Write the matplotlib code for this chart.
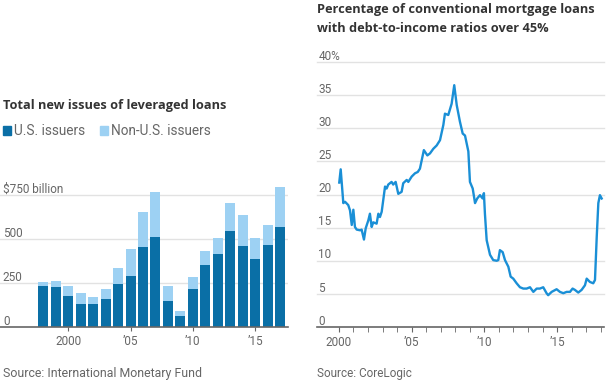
import matplotlib.pyplot as plt

# left chart: leveraged loans, $ billion
years = list(range(1998, 2018))
us = [235, 225, 176, 131, 131, 157, 244, 288, 453, 509,
      146, 61, 214, 354, 413, 544, 462, 383, 468, 566]
total = [254, 261, 235, 195, 172, 218, 337, 445, 652, 767,
         233, 93, 286, 434, 504, 701, 634, 504, 581, 794]
non_us = [t - u for t, u in zip(total, us)]

# right chart: share of mortgages with DTI over 45%
dti_date = [2000.02, 2000.12, 2000.30, 2000.42, 2000.64, 2000.76, 2000.88, 2000.99,
            2001.10, 2001.22, 2001.45, 2001.56, 2001.72, 2001.84, 2002.02, 2002.13,
            2002.25, 2002.36, 2002.59, 2002.71, 2002.82, 2002.94, 2003.17, 2003.28,
            2003.39, 2003.62, 2003.73, 2003.90, 2004.08, 2004.31, 2004.42, 2004.66,
            2004.77, 2005.00, 2005.23, 2005.42, 2005.57, 2005.84, 2006.08, 2006.26,
            2006.49, 2006.72, 2006.95, 2007.18, 2007.29, 2007.52, 2007.75, 2007.93,
            2008.10, 2008.32, 2008.51, 2008.67, 2008.90, 2009.01, 2009.20, 2009.36,
            2009.51, 2009.70, 2009.88, 2009.97, 2010.04, 2010.16, 2010.39, 2010.61,
            2010.85, 2010.96, 2011.07, 2011.26, 2011.42, 2011.65, 2011.81, 2011.99,
            2012.22, 2012.45, 2012.68, 2012.91, 2013.14, 2013.37, 2013.60, 2013.82,
            2014.05, 2014.28, 2014.39, 2014.63, 2014.97, 2015.20, 2015.43, 2015.66,
            2015.89, 2016.07, 2016.23, 2016.46, 2016.69, 2016.92, 2017.04, 2017.26,
            2017.49, 2017.61, 2017.73, 2017.84, 2017.95, 2018.07]
dti_pct = [21.8, 23.8, 18.7, 18.9, 18.4, 17.6, 15.4, 17.7,
           15.1, 14.7, 14.6, 14.7, 13.2, 14.9, 16.1, 17.1,
           15.1, 15.8, 15.6, 17.1, 16.6, 17.4, 21.2, 20.9,
           21.5, 21.9, 21.5, 21.9, 20.1, 20.4, 21.7, 22.2,
           21.9, 22.7, 23.2, 23.4, 23.9, 26.7, 25.9, 26.2,
           26.9, 27.4, 28.2, 30.5, 32.2, 32.0, 33.7, 36.5,
           33.5, 31.0, 29.2, 28.9, 26.5, 21.9, 20.9, 18.7,
           19.4, 19.9, 19.4, 20.2, 17.1, 13.1, 10.9, 10.1,
           10.0, 10.1, 11.6, 11.3, 10.1, 9.1, 7.6, 7.3,
           6.6, 6.0, 5.8, 5.8, 6.0, 5.3, 5.8, 5.8,
           6.0, 5.1, 4.8, 5.3, 5.7, 5.3, 5.1, 5.3,
           5.3, 5.8, 5.6, 5.2, 5.6, 6.3, 7.3, 6.8,
           6.6, 7.1, 13.6, 18.7, 19.9, 19.4]

W, H = 611, 384
dark = "#0a6fa6"
light = "#9dd1f3"
line_c = "#1a8fd6"
grid_c = "#e2e2e2"
txt = "#333333"
tick_c = "#666666"
fam = ["Roboto", "DejaVu Sans"]
fam_b = ["Open Sans", "DejaVu Sans"]


def rect(x0, y0, x1, y1):
    return [x0 / W, 1 - y1 / H, (x1 - x0) / W, (y1 - y0) / H]


def ftext(x, y, s, **kw):
    fig.text(x / W, 1 - y / H, s, **kw)


fig = plt.figure(figsize=(W / 100, H / 100), dpi=100)

# ---- left chart
ax1 = fig.add_axes(rect(0, 186, 288, 327))
ax1.bar(years, us, width=0.8, color=dark, zorder=2)
ax1.bar(years, non_us, bottom=us, width=0.8, color=light, zorder=2)
ax1.set_xlim(1994.52, 2017.64)
ax1.set_ylim(0, 800)
for v in [250, 500, 750]:
    ax1.axhline(v, color=grid_c, lw=1, zorder=0)
for v, lab in [(0, "0"), (250, "250"), (500, "500"), (750, "$750 billion")]:
    ax1.text(0.01, v + 13, lab, transform=ax1.get_yaxis_transform(),
             ha="left", va="baseline", fontsize=8.5, color=tick_c, family=fam)
for s in ["top", "right", "left"]:
    ax1.spines[s].set_visible(False)
ax1.spines["bottom"].set_color(tick_c)
ax1.spines["bottom"].set_linewidth(1.2)
ax1.set_yticks([])
ax1.set_xticks([2000, 2005, 2010, 2015])
ax1.set_xticklabels(["2000", "\u201905", "\u201910", "\u201915"])
ax1.tick_params(axis="x", length=3, color=tick_c, labelcolor=tick_c,
                labelsize=8.5, pad=3)
for t in ax1.get_xticklabels():
    t.set_family(fam)

ftext(3, 105, "Total new issues of leveraged loans", fontsize=9.2,
      weight="bold", color=txt, family=fam_b, va="center")
fig.patches.append(plt.Rectangle((3 / W, 1 - 135 / H), 8 / W, 9 / H,
                                 transform=fig.transFigure, color=dark))
ftext(14, 131, "U.S. issuers", fontsize=9.8, color=tick_c, family=fam, va="center")
fig.patches.append(plt.Rectangle((100 / W, 1 - 135 / H), 8 / W, 9 / H,
                                 transform=fig.transFigure, color=light))
ftext(111, 131, "Non-U.S. issuers", fontsize=9.8, color=tick_c, family=fam, va="center")
ftext(3, 373, "Source: International Monetary Fund", fontsize=8.9,
      color=tick_c, family=fam, va="center")

# ---- right chart
ax2 = fig.add_axes(rect(317, 62, 604, 327))
ax2.plot(dti_date, dti_pct, color=line_c, lw=1.7, zorder=3)
ax2.set_xlim(1998.49, 2018.23)
ax2.set_ylim(0, 40)
for v in range(5, 45, 5):
    ax2.axhline(v, color=grid_c, lw=1, zorder=0, clip_on=False)
for v in range(0, 45, 5):
    lab = "40%" if v == 40 else str(v)
    ax2.text(0.005, v + 0.35, lab, transform=ax2.get_yaxis_transform(),
             ha="left", va="baseline", fontsize=8.5, color=tick_c, family=fam)
for s in ["top", "right", "left"]:
    ax2.spines[s].set_visible(False)
ax2.spines["bottom"].set_color(tick_c)
ax2.spines["bottom"].set_linewidth(1.2)
ax2.set_yticks([])
ax2.set_xticks([2000, 2005, 2010, 2015])
ax2.set_xticklabels(["2000", "\u201905", "\u201910", "\u201915"])
ax2.set_xticks(list(range(2000, 2019)), minor=True)
ax2.tick_params(axis="x", which="both", length=3.5, color=tick_c,
                labelcolor=tick_c, labelsize=8.5, pad=3)
for t in ax2.get_xticklabels():
    t.set_family(fam)

ftext(317, 10, "Percentage of conventional mortgage loans", fontsize=9.2,
      weight="bold", color=txt, family=fam_b, va="center")
ftext(317, 28, "with debt-to-income ratios over 45%", fontsize=9.2,
      weight="bold", color=txt, family=fam_b, va="center")
ftext(317, 374, "Source: CoreLogic", fontsize=8.5, color=tick_c, family=fam,
      va="center")

fig.savefig("out.png", dpi=100)
